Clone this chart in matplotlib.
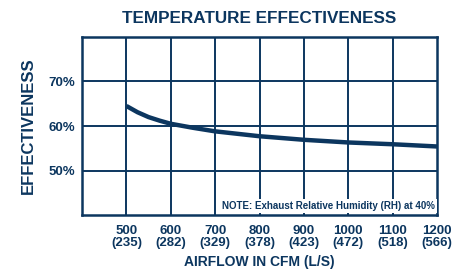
import matplotlib.pyplot as plt

NAVY = '#0c365f'

cfm = [500, 525, 550, 575, 600, 650, 700, 800, 900, 1000, 1100, 1200]
effectiveness = [64.5, 63.1, 62.0, 61.2, 60.5, 59.6, 58.8, 57.7, 56.9, 56.3, 55.9, 55.4]

x_ticks = [500, 600, 700, 800, 900, 1000, 1100, 1200]
x_tick_ls = ['235', '282', '329', '378', '423', '472', '518', '566']
y_ticks = [50, 60, 70]

plt.rcParams['font.family'] = ['Liberation Sans', 'DejaVu Sans']
plt.rcParams['font.weight'] = 'bold'

fig = plt.figure(figsize=(4.7, 2.71), dpi=100)
ax = fig.add_axes([0.1745, 0.2066, 0.7553, 0.6569])

ax.set_xlim(400, 1200)
ax.set_ylim(40, 80)

# grid
for x in x_ticks[:-1]:
    ax.axvline(x, color=NAVY, lw=1.4, zorder=1)
for y in y_ticks:
    ax.axhline(y, color=NAVY, lw=1.4, zorder=1)

ax.plot(cfm, effectiveness, color=NAVY, lw=3.2, solid_capstyle='butt', zorder=3)

for s in ax.spines.values():
    s.set_color(NAVY)
    s.set_linewidth(1.8)

ax.set_xticks(x_ticks)
ax.set_xticklabels([f'{a}\n({b})' for a, b in zip(x_ticks, x_tick_ls)],
                   fontsize=9.5, color=NAVY, linespacing=1.05)
ax.set_yticks(y_ticks)
ax.set_yticklabels([f'{v}%' for v in y_ticks], fontsize=9.5, color=NAVY)
ax.tick_params(axis='x', length=0, pad=7)
ax.tick_params(axis='y', length=0, pad=5)

ax.set_title('TEMPERATURE EFFECTIVENESS', fontsize=12.3, fontweight='bold',
             color=NAVY, pad=10)
ax.set_xlabel('AIRFLOW IN CFM (L/S)', fontsize=10, fontweight='bold', color=NAVY, labelpad=4)
ax.set_ylabel('EFFECTIVENESS', fontsize=12, fontweight='bold', color=NAVY, labelpad=9)

ax.text(0.995, 0.02, 'NOTE: Exhaust Relative Humidity (RH) at 40%',
        transform=ax.transAxes, ha='right', va='bottom', fontsize=7,
        fontweight='bold', color=NAVY, zorder=4,
        bbox=dict(facecolor='white', edgecolor='none', pad=1.5))

fig.savefig('out.png', dpi=100)
